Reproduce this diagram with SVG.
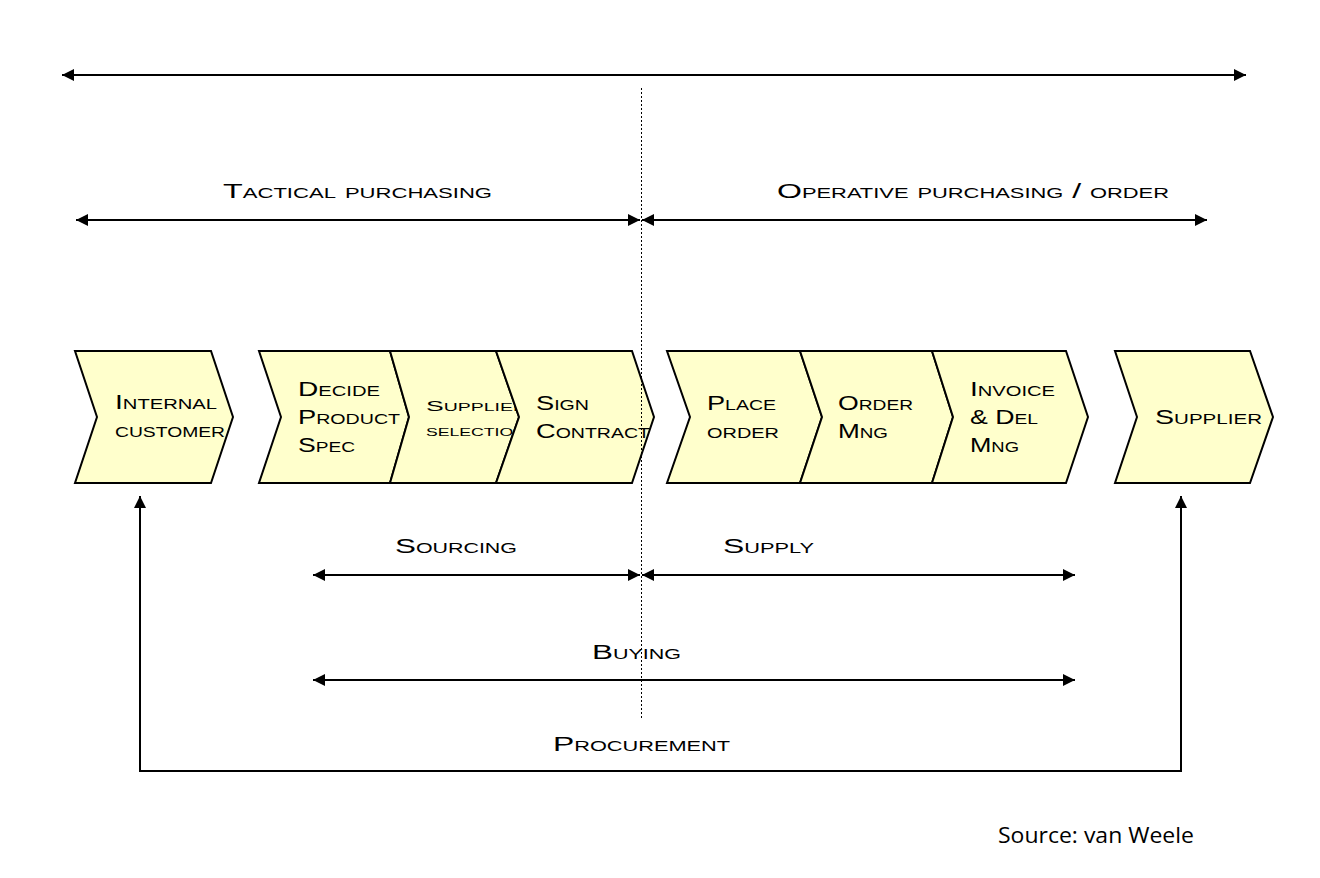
<svg xmlns="http://www.w3.org/2000/svg" width="1320" height="878" viewBox="0 0 1320 878">
<style>
.chev{fill:#FFFFCC;stroke:#000;stroke-width:2;stroke-linejoin:miter}
.t{font-family:"Liberation Sans",Arial,sans-serif;font-variant:small-caps;font-size:19.5px;fill:#000}
.ts{font-size:15px}
.lbl{font-family:"Liberation Sans",Arial,sans-serif;font-variant:small-caps;font-size:20.5px;fill:#000}
.ln{stroke:#000;stroke-width:2;fill:none}
.dot{stroke:#000;stroke-width:1;stroke-dasharray:2 2;fill:none}
</style>
<defs>
<marker id="ah" viewBox="0 0 12 12" refX="12" refY="6" markerWidth="12" markerHeight="12" markerUnits="userSpaceOnUse" orient="auto-start-reverse">
<path d="M0,0 L12,6 L0,12 z" fill="#000"/>
</marker>
</defs>
<rect width="1320" height="878" fill="#fff"/>

<g id="connectors">
<line class="ln" x1="62" y1="75" x2="1246" y2="75" marker-start="url(#ah)" marker-end="url(#ah)"/>
<line class="ln" x1="76" y1="220" x2="640" y2="220" marker-start="url(#ah)" marker-end="url(#ah)"/>
<line class="ln" x1="642" y1="220" x2="1207" y2="220" marker-start="url(#ah)" marker-end="url(#ah)"/>
<line class="ln" x1="313" y1="575" x2="640" y2="575" marker-start="url(#ah)" marker-end="url(#ah)"/>
<line class="ln" x1="642" y1="575" x2="1075" y2="575" marker-start="url(#ah)" marker-end="url(#ah)"/>
<line class="ln" x1="313" y1="680" x2="1075" y2="680" marker-start="url(#ah)" marker-end="url(#ah)"/>
<polyline class="ln" points="140,496 140,771 1181,771 1181,496" marker-start="url(#ah)" marker-end="url(#ah)"/>
</g>

<g id="labels">
<text class="lbl" x="223" y="198" textLength="269" lengthAdjust="spacingAndGlyphs">Tactical purchasing</text>
<text class="lbl" x="777" y="198" textLength="392" lengthAdjust="spacingAndGlyphs">Operative purchasing / order</text>
<text class="lbl" x="395" y="553" textLength="122" lengthAdjust="spacingAndGlyphs">Sourcing</text>
<text class="lbl" x="723" y="553" textLength="91" lengthAdjust="spacingAndGlyphs">Supply</text>
<text class="lbl" x="592" y="659" textLength="89" lengthAdjust="spacingAndGlyphs">Buying</text>
<text class="lbl" x="553" y="751" textLength="177" lengthAdjust="spacingAndGlyphs">Procurement</text>
</g>

<g id="internal-customer">
<polygon class="chev" points="75,351 211,351 233,417 211,483 75,483 97,417"/>
<text class="t" x="115" y="409" textLength="102" lengthAdjust="spacingAndGlyphs">Internal</text>
<text class="t" x="115" y="437" textLength="110" lengthAdjust="spacingAndGlyphs">customer</text>
</g>

<g id="decide-product-spec">
<polygon class="chev" points="259,351 390,351 409,417 390,483 259,483 281,417"/>
<text class="t" x="298" y="396" textLength="82" lengthAdjust="spacingAndGlyphs">Decide</text>
<text class="t" x="298" y="424" textLength="102" lengthAdjust="spacingAndGlyphs">Product</text>
<text class="t" x="298" y="452" textLength="57" lengthAdjust="spacingAndGlyphs">Spec</text>
</g>

<g id="supplier-selection">
<polygon class="chev" points="390,351 496,351 519,417 496,483 390,483 409,417"/>
<text class="t ts" x="426" y="411" textLength="101" lengthAdjust="spacingAndGlyphs">Supplier</text>
<text class="t ts" x="426" y="436" textLength="100" lengthAdjust="spacingAndGlyphs">selection</text>
</g>

<g id="sign-contract">
<polygon class="chev" points="496,351 632,351 654,417 632,483 496,483 519,417"/>
<text class="t" x="536" y="410" textLength="53" lengthAdjust="spacingAndGlyphs">Sign</text>
<text class="t" x="536" y="438" textLength="114" lengthAdjust="spacingAndGlyphs">Contract</text>
</g>

<g id="place-order">
<polygon class="chev" points="667,351 800,351 822,417 800,483 667,483 690,417"/>
<text class="t" x="707" y="410" textLength="69" lengthAdjust="spacingAndGlyphs">Place</text>
<text class="t" x="707" y="438" textLength="72" lengthAdjust="spacingAndGlyphs">order</text>
</g>

<g id="order-mng">
<polygon class="chev" points="800,351 932,351 953,417 932,483 800,483 822,417"/>
<text class="t" x="838" y="410" textLength="75" lengthAdjust="spacingAndGlyphs">Order</text>
<text class="t" x="838" y="438" textLength="50" lengthAdjust="spacingAndGlyphs">Mng</text>
</g>

<g id="invoice-del-mng">
<polygon class="chev" points="932,351 1066,351 1088,417 1066,483 932,483 953,417"/>
<text class="t" x="970" y="396" textLength="85" lengthAdjust="spacingAndGlyphs">Invoice</text>
<text class="t" x="970" y="424" textLength="68" lengthAdjust="spacingAndGlyphs">&amp; Del</text>
<text class="t" x="970" y="452" textLength="49" lengthAdjust="spacingAndGlyphs">Mng</text>
</g>

<g id="supplier">
<polygon class="chev" points="1115,351 1250,351 1273,417 1250,483 1115,483 1137,417"/>
<text class="t" x="1155" y="424" textLength="107" lengthAdjust="spacingAndGlyphs">Supplier</text>
</g>

<g id="divider">
<line class="dot" x1="641.5" y1="88" x2="641.5" y2="718"/>
</g>

<g id="source">
<text x="998" y="843" font-family="'Open Sans','Noto Sans',sans-serif" font-size="21" textLength="196" lengthAdjust="spacingAndGlyphs" fill="#000">Source: van Weele</text>
</g>
</svg>
